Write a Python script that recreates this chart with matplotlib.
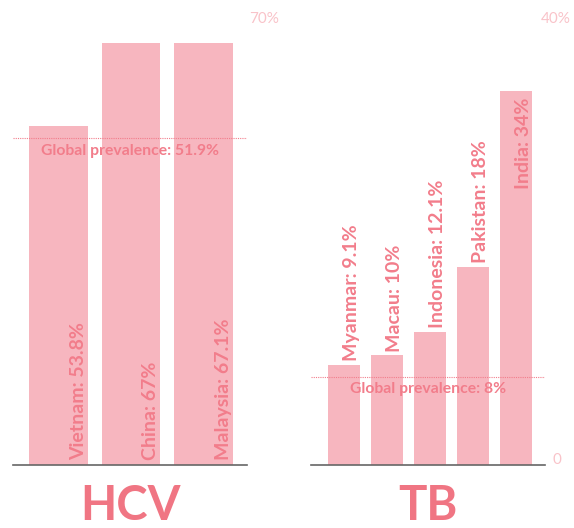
import matplotlib.pyplot as plt

plt.rcParams['font.family'] = ['Lato', 'DejaVu Sans']

hcv_countries = ["Vietnam", "China", "Malaysia"]
hcv_values = [53.8, 67, 67.1]
hcv_labels = ["53.8%", "67%", "67.1%"]
hcv_global = 51.9

tb_countries = ["Myanmar", "Macau", "Indonesia", "Pakistan", "India"]
tb_values = [9.1, 10, 12.1, 18, 34]
tb_labels = ["9.1%", "10%", "12.1%", "18%", "34%"]
tb_global = 8

bar_color = "#f7b6bf"
text_color = "#f27d8b"
title_color = "#f07583"
axis_color = "#f9c3c9"

W, H = 574, 528
fig = plt.figure(figsize=(W / 100, H / 100), dpi=100)

bottom = 1 - 465 / H
top = 1 - 24.5 / H
ax1 = fig.add_axes([13 / W, bottom, (247 - 13) / W, top - bottom])
ax2 = fig.add_axes([311 / W, bottom, (545 - 311) / W, top - bottom])

for ax in (ax1, ax2):
    for s in ["left", "right", "top"]:
        ax.spines[s].set_visible(False)
    ax.spines["bottom"].set_color("#666666")
    ax.spines["bottom"].set_linewidth(1.2)
    ax.set_xticks([])
    ax.set_yticks([])

# HCV
x1 = range(len(hcv_values))
ax1.bar(x1, hcv_values, width=0.81, color=bar_color)
ax1.set_xlim(-0.63, 2.6)
ax1.set_ylim(0, 70)
for i, (c, l) in enumerate(zip(hcv_countries, hcv_labels)):
    ax1.text(i + 0.39, 0.8, f"{c}: {l}", rotation=90, ha="right", va="bottom",
             color=text_color, fontsize=14, fontweight="bold")
ax1.axhline(hcv_global, color=text_color, lw=0.8, ls=(0, (1, 1)))
ax1.text(0.5, hcv_global - 0.9, f"Global prevalence: {hcv_global}%", transform=ax1.get_yaxis_transform(),
         ha="center", va="top", color=text_color, fontsize=11.3, fontweight="bold")
ax1.text(1.01, 70.9, "70%", transform=ax1.get_yaxis_transform(), ha="left", va="center",
         color=axis_color, fontsize=11)
fig.text((13 + 247) / 2 / W, 1 - 520 / H, "HCV", ha="center", va="baseline",
         color=title_color, fontsize=34, fontweight="bold")

# TB
x2 = range(len(tb_values))
ax2.bar(x2, tb_values, width=0.744, color=bar_color)
ax2.set_xlim(-0.77, 4.67)
ax2.set_ylim(0, 40)
for i, (c, l) in enumerate(zip(tb_countries, tb_labels)):
    if tb_values[i] > 30:
        ax2.text(i + 0.37, tb_values[i] - 0.6, f"{c}: {l}", rotation=90, ha="right", va="top",
                 color=text_color, fontsize=14, fontweight="bold")
    else:
        ax2.text(i + 0.37, tb_values[i] + 0.3, f"{c}: {l}", rotation=90, ha="right", va="bottom",
                 color=text_color, fontsize=14, fontweight="bold")
ax2.axhline(tb_global, color=text_color, lw=0.8, ls=(0, (1, 1)))
ax2.text(0.5, tb_global - 0.5, f"Global prevalence: {tb_global}%", transform=ax2.get_yaxis_transform(),
         ha="center", va="top", color=text_color, fontsize=11.3, fontweight="bold")
ax2.text(0.98, 40.5, "40%", transform=ax2.get_yaxis_transform(), ha="left", va="center",
         color=axis_color, fontsize=11)
ax2.text(1.03, 0.45, "0", transform=ax2.get_yaxis_transform(), ha="left", va="center",
         color=axis_color, fontsize=11)
fig.text((311 + 545) / 2 / W, 1 - 520 / H, "TB", ha="center", va="baseline",
         color=title_color, fontsize=34, fontweight="bold")

fig.savefig("out.png", dpi=100)
